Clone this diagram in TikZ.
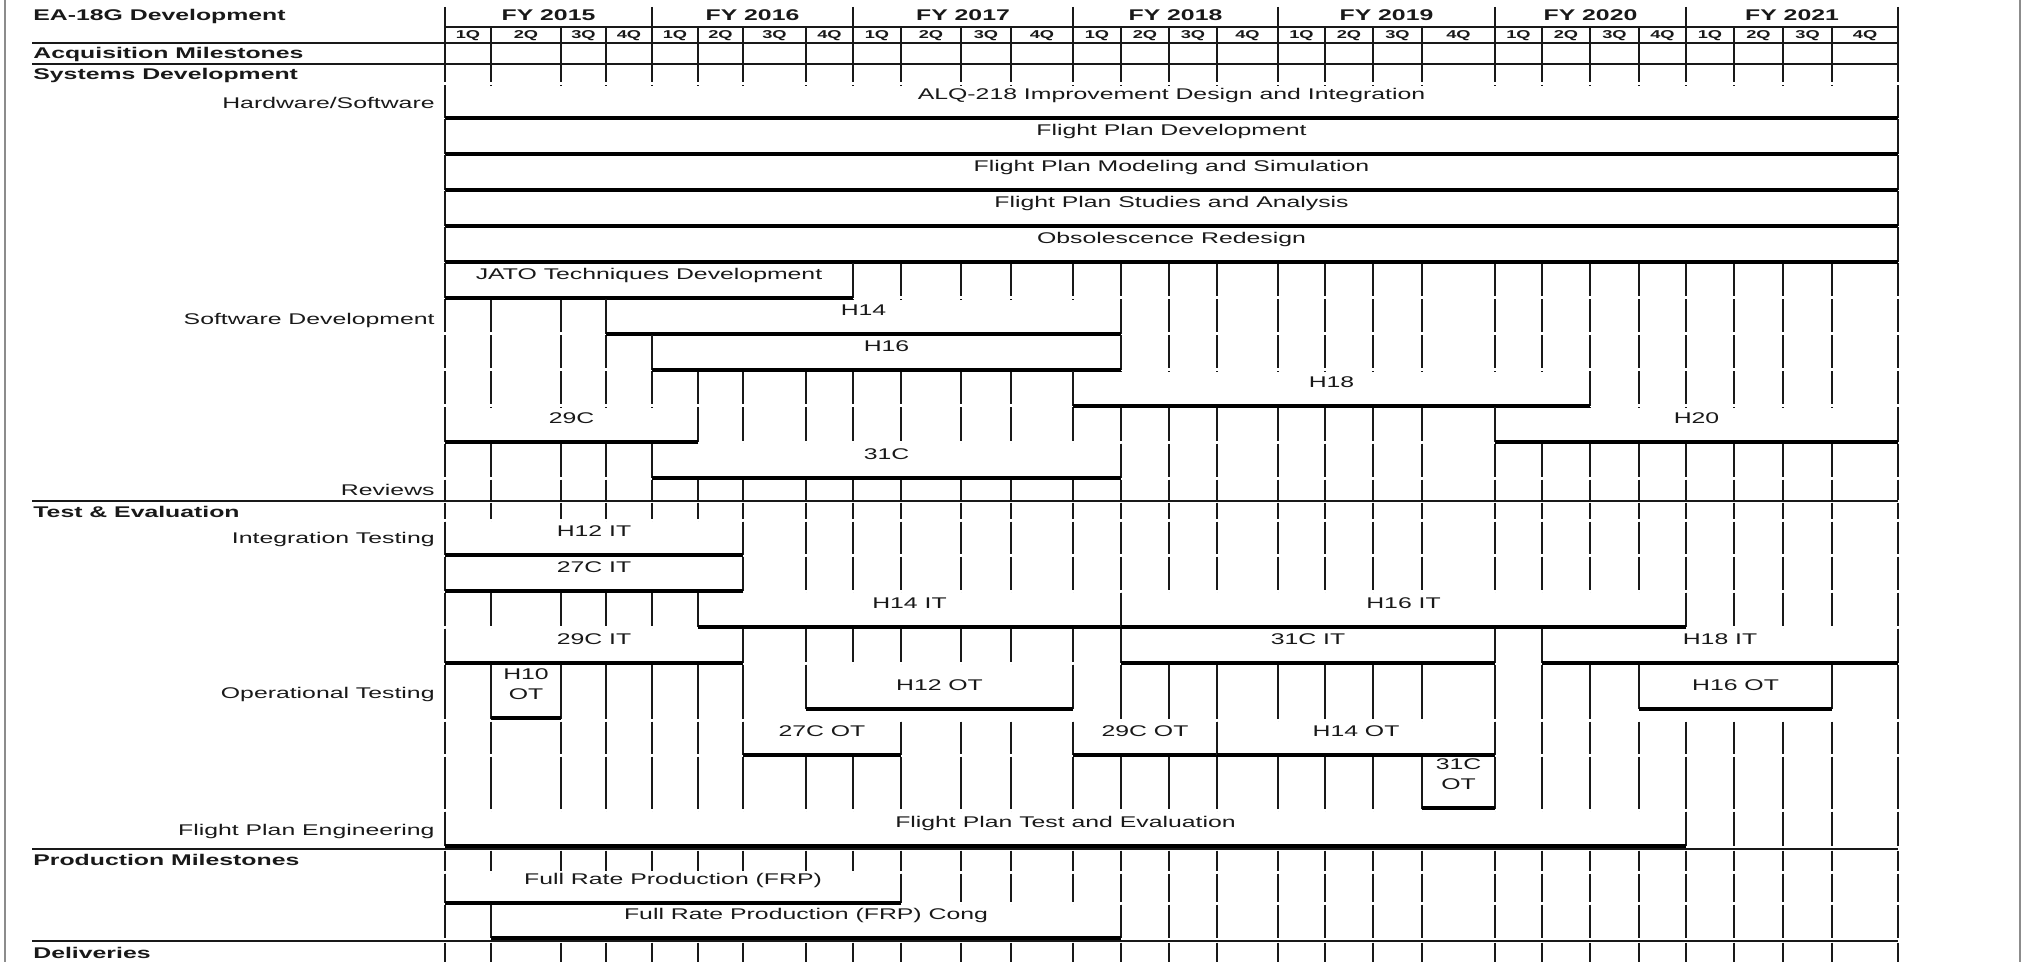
\documentclass[tikz,border=0pt]{standalone}
\usepackage{fontspec}
\setmainfont[FakeStretch=1.6]{Liberation Sans}

% x of quarter line n (0 = FY 2015 1Q ... 28 = end of FY 2021)
\newcommand{\qx}[1]{\ifcase#1 445\or 491\or 561\or 606\or 652\or 698\or 743\or 806\or 853\or 901\or 961\or 1011\or 1073\or 1121\or 1169\or 1217\or 1278\or 1325\or 1373\or 1422\or 1495\or 1542\or 1590\or 1639\or 1686\or 1734\or 1783\or 1832\or 1898\fi}

% bar: name, from quarter, to quarter, top, bottom, text
\newcommand{\ganttbar}[6]{%
  \fill[white] (\qx{#2},#4+2) rectangle (\qx{#3},#5);
  \draw[tick] (\qx{#2},#4+1.5) -- (\qx{#2},#5) (\qx{#3},#4+1.5) -- (\qx{#3},#5);
  \draw[barline] (\qx{#2},#5) -- (\qx{#3},#5);
  \node[bartext] (#1) at ({(\qx{#2}+\qx{#3})/2},#5-18.5) {#6};}

\begin{document}
\begin{tikzpicture}[x=0.5pt, y=-0.5pt,
    tick/.style={line width=0.75pt, black!90},
    sepline/.style={line width=0.75pt, black!90},
    barline/.style={line width=2pt, black},
    frame/.style={line width=1pt, black!45},
    bartext/.style={anchor=base, inner sep=0pt, text=black!90, font=\fontsize{7.75}{10}\selectfont},
    rowlabel/.style={anchor=base east, inner sep=0pt, text=black!90, font=\fontsize{7.75}{10}\selectfont},
    heading/.style={anchor=base west, inner sep=0pt, text=black!90, font=\fontsize{7.75}{10}\selectfont\bfseries},
    fylabel/.style={anchor=base, inner sep=0pt, text=black!90, font=\fontsize{7.75}{10}\selectfont\bfseries},
    qlabel/.style={anchor=base, inner sep=0pt, text=black!90, font=\fontsize{5.7}{6}\selectfont\bfseries}]
  \useasboundingbox (0,0) rectangle (2023,962);

  % page frame
  \draw[frame] (5,0) -- (5,962);
  \draw[frame] (2020,0) -- (2020,962);

  % header grid
  \foreach \q in {0,4,...,28}
    \draw[tick] (\qx{\q},7) -- (\qx{\q},82.5);
  \foreach \q in {0,...,28}
    \draw[tick] (\qx{\q},27) -- (\qx{\q},82.5);
  \draw[sepline] (\qx{0},27) -- (\qx{28},27);
  \draw[sepline] (32,43) -- (\qx{28},43);
  \draw[sepline] (32,64) -- (\qx{28},64);

  \foreach \y [count=\i from 0] in {2015,...,2021}{
    \pgfmathtruncatemacro{\qa}{4*\i}
    \pgfmathtruncatemacro{\qb}{4*\i+4}
    \node[fylabel] (fy\y) at ({(\qx{\qa}+\qx{\qb})/2},20.5) {FY \y};
  }
  \foreach \q in {0,...,27}{
    \pgfmathtruncatemacro{\qn}{\q+1}
    \pgfmathtruncatemacro{\ql}{mod(\q,4)+1}
    \node[qlabel] (ql\q) at ({(\qx{\q}+\qx{\qn})/2},39) {\ql Q};
  }

  % quarter ticks, row by row
  \foreach \t/\b in {84/118,118/154,154/190,190/226,226/262,262/298,298/334,
      334/370,370/406,406/442,442/478,478/501,501/520,520/555,555/591,591/627,
      627/663,663/720,720/755,755/810,810/847,849/872,872/903,903/939,941/963}
    \foreach \q in {0,...,28}
      \draw[tick] (\qx{\q},\t+1.5) -- (\qx{\q},\b-1.5);

  % section lines
  \draw[sepline] (32,501) -- (\qx{28},501);
  \draw[sepline] (32,849) -- (\qx{28},849);
  \draw[sepline] (32,941) -- (\qx{28},941);

  % systems development
  \ganttbar{alq}{0}{28}{84}{118}{ALQ-218 Improvement Design and Integration}
  \ganttbar{fpdev}{0}{28}{118}{154}{Flight Plan Development}
  \ganttbar{fpms}{0}{28}{154}{190}{Flight Plan Modeling and Simulation}
  \ganttbar{fpsa}{0}{28}{190}{226}{Flight Plan Studies and Analysis}
  \ganttbar{obs}{0}{28}{226}{262}{Obsolescence Redesign}
  \ganttbar{jato}{0}{8}{262}{298}{JATO Techniques Development}
  \ganttbar{hfourteen}{3}{13}{298}{334}{H14}
  \ganttbar{hsixteen}{4}{13}{334}{370}{H16}
  \ganttbar{heighteen}{12}{22}{370}{406}{H18}
  \ganttbar{ctwentynine}{0}{5}{406}{442}{29C}
  \ganttbar{htwenty}{20}{28}{406}{442}{H20}
  \ganttbar{cthirtyone}{4}{13}{442}{478}{31C}

  % test and evaluation
  \ganttbar{hiit}{0}{6}{520}{555}{H12 IT}
  \ganttbar{c27it}{0}{6}{555}{591}{27C IT}
  \ganttbar{h14it}{5}{13}{591}{627}{H14 IT}
  \ganttbar{h16it}{13}{24}{591}{627}{H16 IT}
  \ganttbar{c29it}{0}{6}{627}{663}{29C IT}
  \ganttbar{c31it}{13}{20}{627}{663}{31C IT}
  \ganttbar{h18it}{21}{28}{627}{663}{H18 IT}
  \fill[white] (\qx{7}-1,705) rectangle (\qx{12}+1,720);
  \fill[white] (\qx{23}-1,705) rectangle (\qx{27}+1,720);
  \ganttbar{h10ot}{1}{2}{663}{718}{\begin{tabular}[b]{@{}c@{}}H10\\OT\end{tabular}}
  \ganttbar{h12ot}{7}{12}{663}{709}{H12 OT}
  \ganttbar{h16ot}{23}{27}{663}{709}{H16 OT}
  \ganttbar{c27ot}{6}{9}{720}{755}{27C OT}
  \ganttbar{c29ot}{12}{15}{720}{755}{29C OT}
  \ganttbar{h14ot}{15}{20}{720}{755}{H14 OT}
  \ganttbar{c31ot}{19}{20}{755}{808}{\begin{tabular}[b]{@{}c@{}}31C\\OT\end{tabular}}
  \ganttbar{fpte}{0}{24}{810}{846}{Flight Plan Test and Evaluation}

  % production
  \ganttbar{frp}{0}{9}{872}{903}{Full Rate Production (FRP)}
  \ganttbar{frpcong}{1}{13}{903}{938}{Full Rate Production (FRP) Cong}

  % left column
  \node[heading] (title) at (33,20.5) {EA-18G Development};
  \node[heading] (acq) at (33,58.5) {Acquisition Milestones};
  \node[heading] (sysdev) at (33,79.5) {Systems Development};
  \node[heading] (testeval) at (33,517.5) {Test \& Evaluation};
  \node[heading] (prod) at (33,865.5) {Production Milestones};
  \node[heading] (deliv) at (33,958.5) {Deliveries};

  \node[rowlabel] (hwsw) at (435,108.5) {Hardware/Software};
  \node[rowlabel] (swdev) at (435,324.5) {Software Development};
  \node[rowlabel] (reviews) at (435,495.5) {Reviews};
  \node[rowlabel] (inttest) at (435,543.5) {Integration Testing};
  \node[rowlabel] (optest) at (435,698.5) {Operational Testing};
  \node[rowlabel] (fpeng) at (435,835.5) {Flight Plan Engineering};
\end{tikzpicture}
\end{document}
